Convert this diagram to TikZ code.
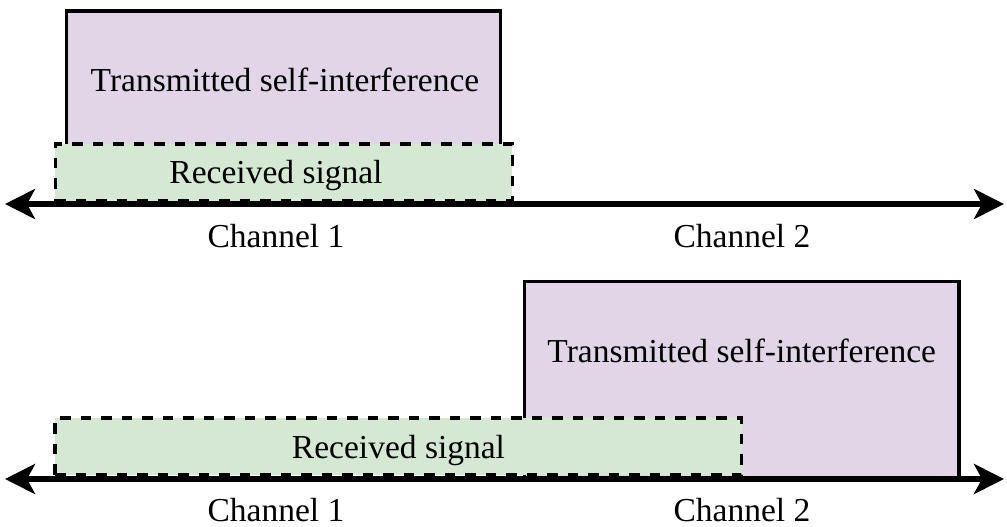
\documentclass[tikz,border=0pt]{standalone}
\usepackage{fontspec}
\setmainfont{Liberation Serif}
\usepackage{xcolor}
\usetikzlibrary{arrows.meta,positioning}
\definecolor{sipurple}{HTML}{E1D5E7}
\definecolor{rxgreen}{HTML}{D5E8D4}

\begin{document}
\begin{tikzpicture}[x=1pt,y=-1pt,
  si/.style={rectangle,draw=black,fill=sipurple,line width=3.5pt,inner sep=0pt},
  rx/.style={rectangle,draw=black,fill=rxgreen,line width=3.5pt,inner sep=0pt,dash pattern=on 10.5pt off 10pt},
  lb/.style={inner sep=0pt,anchor=base,font=\fontsize{33.5}{40}\selectfont},
  ax/.style={<->,line width=6.5pt,>={Stealth[length=30pt,width=30pt,inset=8pt]}}]
\useasboundingbox (0,0) rectangle (1007,527);
% upper band: both in channel 1
\node[si,minimum width=434pt,minimum height=139pt] (si1) at (283.5,80.5) {};
\node[rx,minimum width=457pt,minimum height=56.5pt] (rs1) at (283.75,172.25) {};
\coordinate (a1l) at (5,204);
\coordinate (a1r) at (1004,204);
\draw[ax] (a1l) -- (a1r);
\node[lb] (si1t) at (285,92) {Transmitted self-interference};
\node[lb] (rs1t) at (276,183) {Received signal};
\node[lb] (c11) at (276,247) {Channel 1};
\node[lb] (c12) at (742,247) {Channel 2};
% lower band: transmit moved to channel 2
\node[si,minimum width=434.5pt,minimum height=196.5pt] (si2) at (741.75,379.75) {};
\node[rx,minimum width=686.5pt,minimum height=57pt] (rs2) at (398.25,446.5) {};
\coordinate (a2l) at (5,479);
\coordinate (a2r) at (1004,479);
\draw[ax] (a2l) -- (a2r);
\node[lb] (si2t) at (741.75,362) {Transmitted self-interference};
\node[lb] (rs2t) at (398.5,458) {Received signal};
\node[lb] (c21) at (276,521) {Channel 1};
\node[lb] (c22) at (742,521) {Channel 2};
\end{tikzpicture}
\end{document}
